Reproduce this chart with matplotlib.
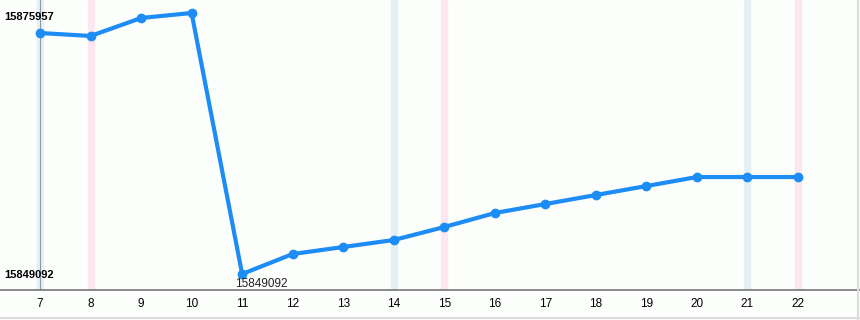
import matplotlib
matplotlib.use("Agg")
from matplotlib import pyplot as plt

plt.rcParams["font.family"] = ["Liberation Sans", "DejaVu Sans"]

days = [7, 8, 9, 10, 11, 12, 13, 14, 15, 16, 17, 18, 19, 20, 21, 22]
values = [15873899, 15873590, 15875443, 15875957, 15849092, 15851150,
          15851870, 15852590, 15853928, 15855369, 15856295, 15857221,
          15858147, 15859073, 15859073, 15859073]
blue_days = [7, 14, 21]
pink_days = [8, 15, 22]

fig = plt.figure(figsize=(8.6, 3.2), dpi=100)
fig.patch.set_facecolor("#fcfefc")
ax = fig.add_axes([0, 30 / 320, 1, 290 / 320])
ax.set_facecolor("#fcfefc")

# weekend-ish bands
for d in blue_days:
    ax.axvspan(d - 0.06, d + 0.06, color="#e3f0f4", zorder=0)
for d in pink_days:
    ax.axvspan(d - 0.06, d + 0.06, color="#fce6ef", zorder=0)
ax.axvline(7, color="#8a9aa0", lw=0.8, zorder=1)

ax.plot(days, values, color="#1e8cf5", lw=3, marker="o", ms=6, zorder=3)

vmax, vmin = max(values), min(values)
ax.set_xlim(7 - 40 / 50.53, 22 + 62 / 50.53)
step = (vmax - vmin) / 261
ax.set_ylim(vmin - 16 * step, vmax + 13 * step)

ax.set_xticks(days)
ax.set_xticklabels([str(d) for d in days], fontsize=8.5)
ax.tick_params(axis="x", length=0, pad=6)
ax.set_yticks([])
for s in ["top", "left", "right"]:
    ax.spines[s].set_visible(False)
ax.spines["bottom"].set_color("#777777")
ax.spines["bottom"].set_linewidth(1.2)

ax.text(6.3, vmax - 4 * step, str(vmax), fontsize=8, fontweight="bold", va="center", ha="left")
ax.text(6.3, vmin - 1 * step, str(vmin), fontsize=8, fontweight="bold", va="center", ha="left")
ax.text(11.37, vmin - 10 * step, str(vmin), fontsize=8.5, va="center", ha="center", color="#222222")

# thin frame on right/bottom of figure
fig.add_artist(plt.Line2D([0.998, 0.998], [0, 1], color="#dddddd", lw=1.5))
fig.add_artist(plt.Line2D([0, 1], [0.006, 0.006], color="#dddddd", lw=1.5))

fig.savefig("out.png", dpi=100, facecolor=fig.get_facecolor())
